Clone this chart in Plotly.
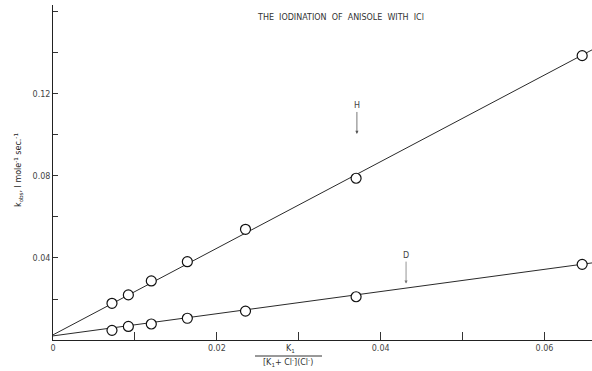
import plotly.graph_objects as go

# Data
x_vals = [0.0072, 0.0092, 0.0120, 0.0164, 0.0235, 0.0370, 0.0646]
h_vals = [0.0179, 0.0220, 0.0288, 0.0382, 0.0540, 0.0789, 0.1387]
d_vals = [0.0047, 0.0066, 0.0078, 0.0106, 0.0141, 0.0211, 0.0369]

fit_x = [0.0, 0.0658]
h_fit = [0.0025, 0.1415]
d_fit = [0.0020, 0.0376]

x_tickvals = [0.0, 0.02, 0.04, 0.06]
x_ticktext = ["0", "0.02", "0.04", "0.06"]
y_tickvals = [0.04, 0.08, 0.12]
y_ticktext = ["0.04", "0.08", "0.12"]

W, H = 592, 371
ml, mr, mt, mb = 53, 0, 5, 31
PW, PH = W - ml - mr, H - mt - mb


def px(xp):
    return (xp - ml) / PW


def py(yp):
    return (H - yp - mb) / PH


fig = go.Figure()
line_col = "#2a2a2a"
for yf in (h_fit, d_fit):
    fig.add_trace(go.Scatter(x=fit_x, y=yf, mode="lines",
                             line=dict(color=line_col, width=1), showlegend=False,
                             hoverinfo="skip"))
for yv in (h_vals, d_vals):
    fig.add_trace(go.Scatter(x=x_vals, y=yv, mode="markers", cliponaxis=False,
                             marker=dict(symbol="circle", size=10, color="white",
                                         line=dict(color="#111", width=1.2)),
                             showlegend=False))

font_c = "#444"
txt = dict(xref="paper", yref="paper", showarrow=False, xanchor="center", yanchor="middle")
fig.update_layout(
    width=W, height=H,
    margin=dict(l=ml, r=mr, t=mt, b=mb, autoexpand=False),
    plot_bgcolor="white", paper_bgcolor="white",
    font=dict(family="DejaVu Sans", size=8, color=font_c),
    xaxis=dict(range=[0, 0.0658], tickvals=x_tickvals, ticktext=x_ticktext,
               showgrid=False, zeroline=False, showline=True, linecolor="#222",
               linewidth=1, ticks="inside", ticklen=8, tickcolor="#333",
               minor=dict(dtick=0.01, tick0=0, ticks="inside", ticklen=8,
                          tickcolor="#333", showgrid=False),
               tickfont=dict(size=8, color=font_c), automargin=False),
    yaxis=dict(range=[0, 0.1634], tickvals=y_tickvals, ticktext=y_ticktext,
               showgrid=False, zeroline=False, showline=True, linecolor="#222",
               linewidth=1, ticks="inside", ticklen=5, tickcolor="#333",
               minor=dict(dtick=0.02, tick0=0, ticks="inside", ticklen=5,
                          tickcolor="#333", showgrid=False),
               tickfont=dict(size=8, color=font_c), automargin=False),
    annotations=[
        dict(text="THE  IODINATION  OF  ANISOLE  WITH  ICl", x=px(340), y=py(18),
             font=dict(size=8, color="#333"), **txt),
        dict(text="k<sub>obs</sub>, l mole<sup>-1</sup> sec.<sup>-1</sup>",
             textangle=-90, x=px(18), y=py(170),
             font=dict(size=8, color="#222"), **txt),
        dict(text="K<sub>1</sub>", x=px(290), y=py(349),
             font=dict(size=8, color="#333"), **txt),
        dict(text="[K<sub>1</sub>+ Cl<sup>-</sup>](Cl<sup>-</sup>)", x=px(288), y=py(362),
             font=dict(size=8, color="#333"), **txt),
        dict(text="H", x=0.0371, y=0.1005, ax=0, ay=-28, showarrow=True,
             arrowhead=2, arrowsize=0.8, arrowwidth=0.8, arrowcolor="#555",
             xref="x", yref="y", font=dict(size=8, color="#444")),
        dict(text="D", x=0.0431, y=0.0275, ax=0, ay=-28, showarrow=True,
             arrowhead=2, arrowsize=0.8, arrowwidth=0.8, arrowcolor="#777",
             xref="x", yref="y", font=dict(size=8, color="#444")),
    ],
)

fig.add_shape(type="line", xref="paper", yref="paper",
              x0=px(255), x1=px(322), y0=py(356), y1=py(356),
              line=dict(color="#333", width=1))

fig.write_html("out.html", config={"displayModeBar": False},
               post_script="document.body.style.margin='0';document.body.style.overflow='hidden';")
